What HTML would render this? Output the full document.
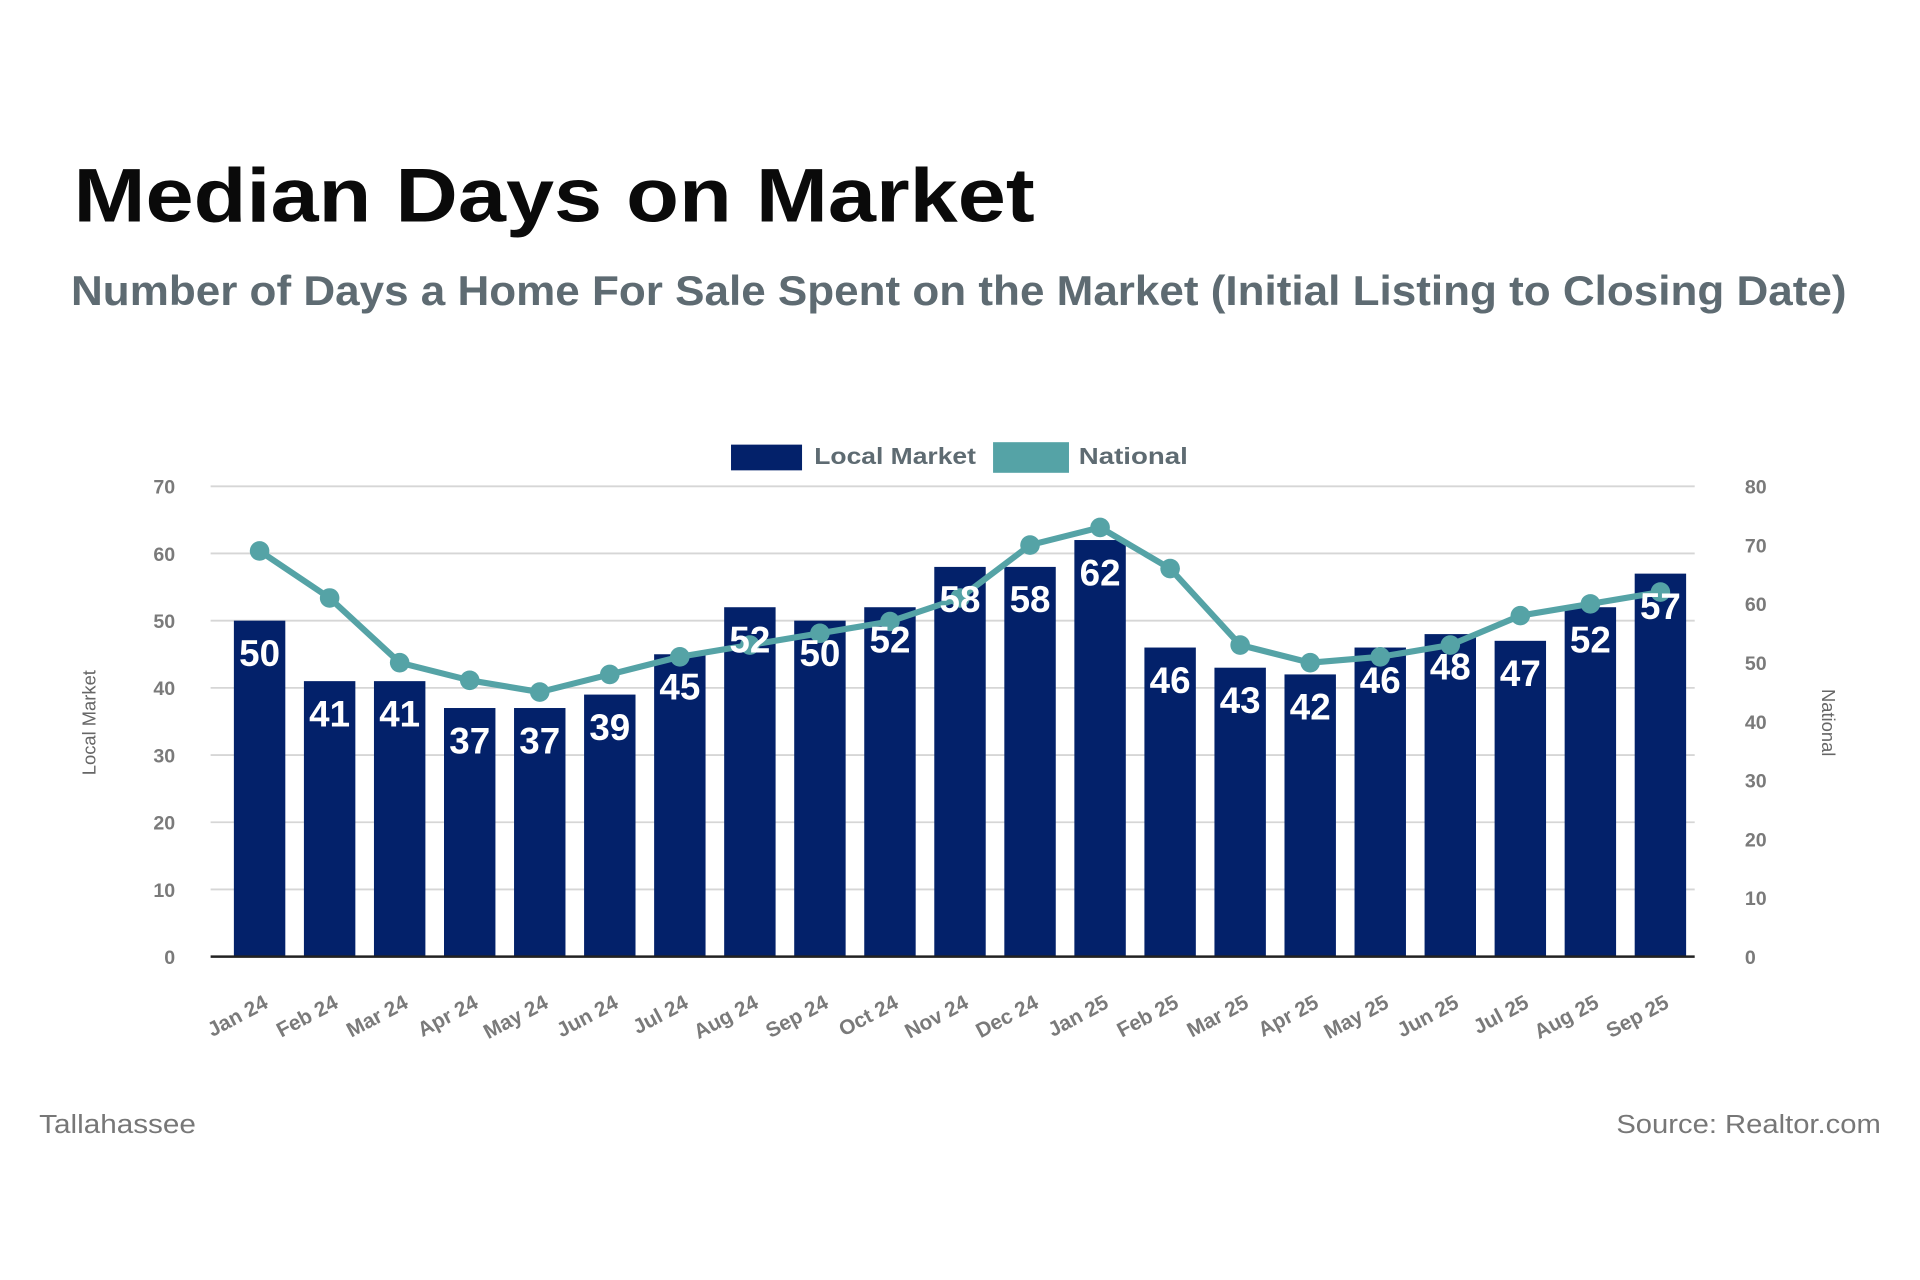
<!DOCTYPE html>
<html><head><meta charset="utf-8"><style>
html,body{margin:0;padding:0;background:#fff;}
svg{display:block;}
</style></head><body>
<svg id="chart" width="1920" height="1280" viewBox="0 0 1568 1045" preserveAspectRatio="none" xmlns="http://www.w3.org/2000/svg" font-family="'Liberation Sans', sans-serif">
<rect width="1568" height="1045" fill="#fff"/>
<text x="60" y="181" font-size="62" font-weight="bold" fill="#0a0a0a" textLength="785" lengthAdjust="spacingAndGlyphs">Median Days on Market</text>
<text x="58" y="249" font-size="34" font-weight="bold" fill="#5e6b72" textLength="1450" lengthAdjust="spacingAndGlyphs">Number of Days a Home For Sale Spent on the Market (Initial Listing to Closing Date)</text>
<g>
<rect x="597" y="363" width="58" height="21" fill="#03216a"/>
<text x="665" y="379" font-size="19" font-weight="bold" fill="#5e6b72" textLength="132" lengthAdjust="spacingAndGlyphs">Local Market</text>
<rect x="811" y="361" width="62" height="25" fill="#55a3a6"/>
<text x="881" y="379" font-size="19" font-weight="bold" fill="#5e6b72" textLength="89" lengthAdjust="spacingAndGlyphs">National</text>
</g>
<g id="grid"></g>
<g id="bars"></g>
<g id="line"></g>
<g id="labels"></g>
<g id="axes"></g>
<text transform="translate(78,590) rotate(-90)" text-anchor="middle" font-size="15" fill="#666">Local Market</text>
<text transform="translate(1488,590) rotate(90)" text-anchor="middle" font-size="15" fill="#666">National</text>
<text x="32" y="925" font-size="21" fill="#777" textLength="128" lengthAdjust="spacingAndGlyphs">Tallahassee</text>
<text x="1320" y="925" font-size="21" fill="#777" textLength="216" lengthAdjust="spacingAndGlyphs">Source: Realtor.com</text>
</svg>
<script>
const categories = ["Jan 24","Feb 24","Mar 24","Apr 24","May 24","Jun 24","Jul 24","Aug 24","Sep 24","Oct 24","Nov 24","Dec 24","Jan 25","Feb 25","Mar 25","Apr 25","May 25","Jun 25","Jul 25","Aug 25","Sep 25"];
const localValues = [50,41,41,37,37,39,45,52,50,52,58,58,62,46,43,42,46,48,47,52,57];
const nationalValues = [69,61,50,47,45,48,51,53,55,57,61,70,73,66,53,50,51,53,58,60,62];
const leftTicks = [0,10,20,30,40,50,60,70];
const rightTicks = [0,10,20,30,40,50,60,70,80];

const NS = "http://www.w3.org/2000/svg";
const X0 = 172, X1 = 1384, Y0 = 781, YT = 397;
const CX0 = 212, CX1 = 1356;
const step = (CX1 - CX0) / (categories.length - 1);
const xC = i => CX0 + step * i;
const yL = v => Y0 - (v / 70) * (Y0 - YT);
const yR = v => Y0 - (v / 80) * (Y0 - YT);
function mk(tag, attrs, parent, txt) {
  const e = document.createElementNS(NS, tag);
  for (const k in attrs) e.setAttribute(k, attrs[k]);
  if (txt !== undefined) e.textContent = txt;
  document.getElementById(parent).appendChild(e);
  return e;
}
leftTicks.forEach(t => {
  if (t > 0) {
    const g = mk('line', {x1: X0, x2: X1, y1: yL(t), y2: yL(t), stroke: '#d6d6d6', 'stroke-width': 1.5}, 'grid');
    
    
  }
  const lt = mk('text', {x: 143, y: yL(t) + 6, 'text-anchor': 'end', 'font-size': 16, 'font-weight': 'bold', fill: '#7a7a7a'}, 'axes', t);
  
  
});
rightTicks.forEach(t => {
  const rt = mk('text', {x: 1425, y: yR(t) + 6, 'font-size': 16, 'font-weight': 'bold', fill: '#7a7a7a'}, 'axes', t);
  
  
});
const bw = 42;
localValues.forEach((v, i) => {
  const b = mk('rect', {x: xC(i) - bw / 2, y: yL(v), width: bw, height: Y0 - yL(v), fill: '#03216a'}, 'bars');
  
  
});
let d = '';
nationalValues.forEach((v, i) => { d += (i ? 'L' : 'M') + xC(i) + ' ' + yR(v); });
const p = mk('path', {d: d, fill: 'none', stroke: '#55a3a6', 'stroke-width': 5, 'stroke-linejoin': 'round'}, 'line');


nationalValues.forEach((v, i) => {
  const c = mk('circle', {cx: xC(i), cy: yR(v), r: 8, fill: '#55a3a6'}, 'line');
  
  
});
localValues.forEach((v, i) => {
  const t = mk('text', {x: xC(i), y: yL(v) + 37, 'text-anchor': 'middle', 'font-size': 30, 'font-weight': 'bold', fill: '#fff'}, 'labels', v);
  
  
});
const ax = mk('line', {x1: X0, x2: X1, y1: Y0, y2: Y0, stroke: '#222', 'stroke-width': 2}, 'axes');


categories.forEach((c, i) => {
  const t = mk('text', {transform: 'translate(' + (xC(i) + 8) + ',822) rotate(-28)', 'text-anchor': 'end', 'font-size': 17, 'font-weight': 'bold', fill: '#7a7a7a'}, 'axes', c);
  
  
});
</script>
</body></html>
